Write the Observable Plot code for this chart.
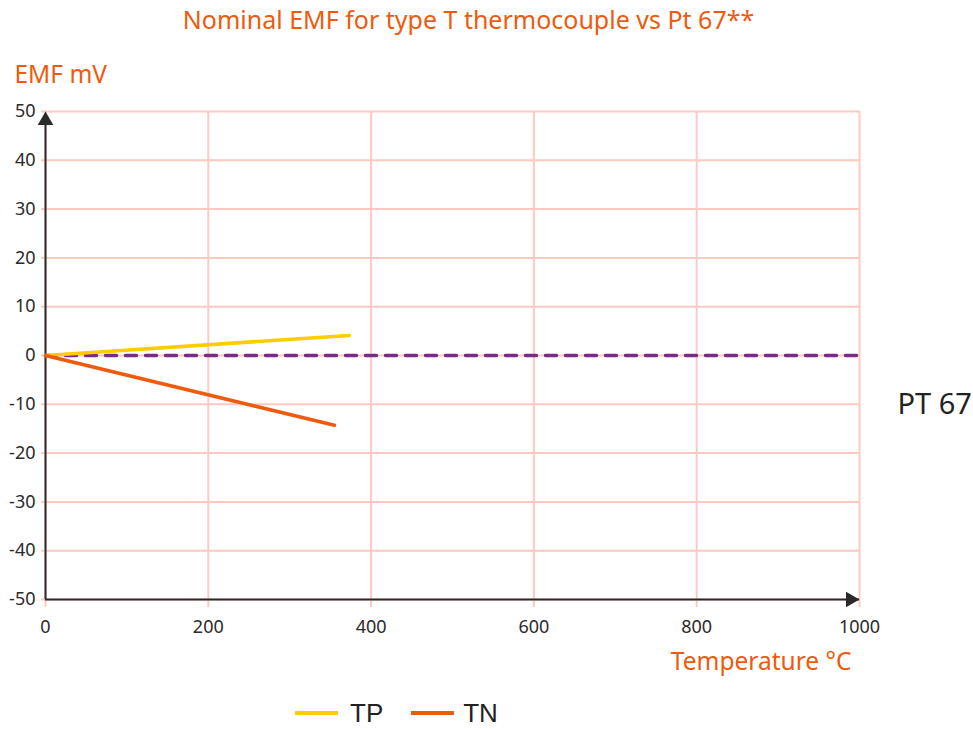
<!DOCTYPE html>
<html><head><meta charset="utf-8">
<script src="https://cdn.jsdelivr.net/npm/d3@7"></script>
<script src="https://cdn.jsdelivr.net/npm/@observablehq/plot@0.6"></script>
<style>
body{margin:0;background:#fff;font-family:"Noto Sans",sans-serif;}
#wrap{position:relative;width:973px;height:729px;}
#chart svg{display:block;}
#legend{position:absolute;top:698px;left:295px;height:30px;display:flex;align-items:center;font-family:"Liberation Sans",Arial,sans-serif;font-size:26px;line-height:30px;color:#222;}
#legend .lb{display:inline-block;height:30px;line-height:30px;}
.sw{display:inline-block;width:43px;height:4px;}
</style></head><body>
<div id="wrap"><div id="chart"></div>
<div id="legend"><span class="sw" style="background:#ffcc00"></span><span class="lb" style="margin-left:12px;margin-right:28px">TP</span><span class="sw" style="background:#ee5a0e"></span><span class="lb" style="margin-left:9px">TN</span></div>
</div>
<script>
const title = "Nominal EMF for type T thermocouple vs Pt 67**";
const xTicks = [0,200,400,600,800,1000];
const yTicks = [-50,-40,-30,-20,-10,0,10,20,30,40,50];
const tpTemp = [0, 373];
const tpEmf = [0, 4.1];
const tnTemp = [0, 355];
const tnEmf = [0, -14.3];
const ptTemp = [0, 1000];
const ptEmf = [0, 0];

const tp = tpTemp.map((t,i)=>({t, v: tpEmf[i]}));
const tn = tnTemp.map((t,i)=>({t, v: tnEmf[i]}));
const pt = ptTemp.map((t,i)=>({t, v: ptEmf[i]}));
const orange = "#ee5a0e", pink = "#ffc9c2", ink = "#2a2a2a";
const fmt = d => String(d);

const chart = Plot.plot({
  width: 973, height: 729,
  marginLeft: 45, marginRight: 114, marginTop: 111, marginBottom: 130,
  style: {fontFamily: "Noto Sans", fontSize: "18px", color: ink, background: "#fff", overflow: "visible"},
  x: {domain: [0,1000]},
  y: {domain: [-50,50]},
  marks: [
    Plot.gridX(xTicks, {stroke: pink, strokeOpacity: 1, strokeWidth: 2, y1: -50, y2: 50}),
    Plot.gridY(yTicks, {stroke: pink, strokeOpacity: 1, strokeWidth: 2}),
    Plot.axisX(xTicks, {tickSize: 8, stroke: pink, strokeWidth: 2, tickPadding: 13, label: null, fill: ink, fontSize: 18, tickFormat: fmt}),
    Plot.axisY(yTicks, {tickSize: 4, stroke: pink, strokeWidth: 2, tickPadding: 6, label: null, fill: ink, fontSize: 18, tickFormat: fmt}),
    Plot.ruleX([0], {y1: -50, y2: 50, stroke: ink, strokeWidth: 2, insetBottom: -8}),
    Plot.ruleY([-50], {x1: 0, x2: 1000, stroke: ink, strokeWidth: 2}),
    Plot.dot([{t:0, v:50}], {x:"t", y:"v", symbol:"triangle", r:5.8, fill: ink, stroke:null, dy: 9}),
    Plot.dot([{t:1000, v:-50}], {x:"t", y:"v", symbol:"triangle", r:5.8, fill: ink, stroke:null, rotate: 90, dx: -9}),
    Plot.line(pt, {x:"t", y:"v", stroke:"#7b2a88", strokeWidth: 3.5, strokeDasharray: "11,9"}),
    Plot.line(tp, {x:"t", y:"v", stroke:"#ffcc00", strokeWidth: 3.5}),
    Plot.line(tn, {x:"t", y:"v", stroke: orange, strokeWidth: 3.5}),
    Plot.text(["PT 67"], {x: 1000, y: -10, dx: 38, textAnchor: "start", lineAnchor: "middle", fontSize: 29, fill: "#222"}),
    Plot.text([title], {frameAnchor: "top", dx: 16, dy: -91, lineAnchor: "middle", fontSize: 25, fill: orange}),
    Plot.text(["EMF mV"], {frameAnchor: "top-left", dx: -31, dy: -36, textAnchor: "start", lineAnchor: "middle", fontSize: 24.5, fill: orange}),
    Plot.text(["Temperature °C"], {frameAnchor: "bottom-right", dx: -8, dy: 63, textAnchor: "end", lineAnchor: "middle", fontSize: 24.5, fill: orange})
  ]
});
document.getElementById("chart").append(chart);
</script>
</body></html>
